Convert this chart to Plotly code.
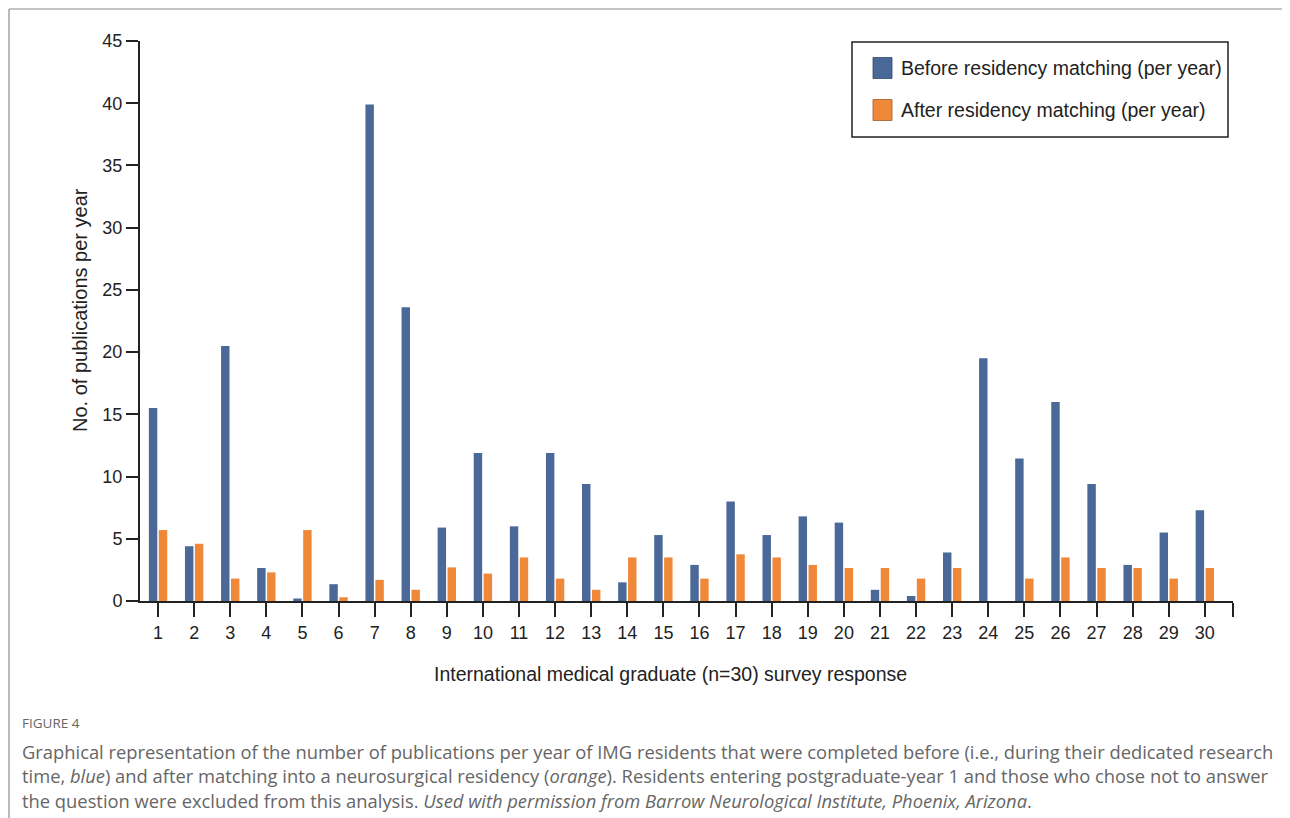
import plotly.graph_objects as go

# ---- data ----
responses = list(range(1, 31))
before_vals = [15.5, 4.4, 20.5, 2.65, 0.2, 1.35, 39.9, 23.6, 5.9, 11.9,
               6.0, 11.9, 9.4, 1.5, 5.3, 2.9, 8.0, 5.3, 6.8, 6.3,
               0.9, 0.4, 3.9, 19.5, 11.45, 16.0, 9.4, 2.9, 5.5, 7.3]
after_vals = [5.7, 4.6, 1.8, 2.3, 5.7, 0.3, 1.7, 0.9, 2.7, 2.2,
              3.5, 1.8, 0.9, 3.5, 3.5, 1.8, 3.75, 3.5, 2.9, 2.65,
              2.65, 1.8, 2.65, 0.0, 1.8, 3.5, 2.65, 2.65, 1.8, 2.65]
series_names = ["Before residency matching (per year)", "After residency matching (per year)"]
y_ticks = [0, 5, 10, 15, 20, 25, 30, 35, 40, 45]
x_title = "International medical graduate (n=30) survey response"
y_title = "No. of publications per year"
caption_head = "FIGURE 4"
caption_lines = [
    "Graphical representation of the number of publications per year of IMG residents that were completed before (i.e., during their dedicated research",
    "time, <i>blue</i>) and after matching into a neurosurgical residency (<i>orange</i>). Residents entering postgraduate-year 1 and those who chose not to answer",
    "the question were excluded from this analysis. <i>Used with permission from Barrow Neurological Institute, Phoenix, Arizona</i>.",
]

BLUE = "#4a6898"
ORANGE = "#f0883a"
FONT = "Liberation Sans, Arial, sans-serif"

OFF = 8  # page body margin
W, H = 1290 - OFF, 818 - OFF
L, R, T, B = 140 - OFF, 1233 - OFF, 41 - OFF, 601 - OFF  # plot area in figure pixels
pw, ph = R - L, B - T

def px(xp):
    # xp: page pixel in reference
    return (xp - OFF - L) / pw

def py(yp):
    return (B - (yp - OFF)) / ph

fig = go.Figure()
fig.add_trace(go.Bar(x=responses, y=before_vals, name=series_names[0],
                     marker=dict(color=BLUE, line=dict(width=0)),
                     showlegend=False))
fig.add_trace(go.Bar(x=responses, y=after_vals, name=series_names[1],
                     marker=dict(color=ORANGE, line=dict(width=0)),
                     showlegend=False))

x_end = 30.78
fig.update_layout(
    width=W, height=H,
    margin=dict(l=L, r=W - R, t=T, b=H - B, pad=0),
    paper_bgcolor="white", plot_bgcolor="white",
    barmode="group", bargap=0.45, bargroupgap=0.15,
    font=dict(family=FONT, color="#222"),
)
fig.update_xaxes(
    range=[0.5, x_end], tickmode="array",
    tickvals=responses + [x_end], ticktext=[str(r) for r in responses] + [""],
    ticks="outside", ticklen=14, tickwidth=2, tickcolor="#222",
    showline=True, linecolor="#222", linewidth=2,
    showgrid=False, zeroline=False,
    tickfont=dict(size=18, family=FONT, color="#222"),
)
fig.update_yaxes(
    range=[0, 45], tickmode="array", tickvals=y_ticks,
    ticks="outside", ticklen=12, tickwidth=2, tickcolor="#222",
    showline=True, linecolor="#222", linewidth=2,
    showgrid=False, zeroline=False,
    tickfont=dict(size=18, family=FONT, color="#222"),
)

shapes = []
annotations = []

# axis titles
annotations.append(dict(text=x_title, xref="paper", yref="paper",
                        x=px(670), y=py(674), showarrow=False,
                        xanchor="center", yanchor="middle",
                        font=dict(size=19.5, family=FONT, color="#222")))
annotations.append(dict(text=y_title, xref="paper", yref="paper",
                        x=px(80), y=py(310), showarrow=False, textangle=-90,
                        xanchor="center", yanchor="middle",
                        font=dict(size=20, family=FONT, color="#222")))

# legend (manual)
shapes.append(dict(type="rect", xref="paper", yref="paper",
                   x0=px(852), x1=px(1228), y0=py(137), y1=py(42),
                   line=dict(color="#222", width=1.5), fillcolor="white"))
for i, (nm, col, edge) in enumerate([(series_names[0], BLUE, "#33486b"),
                                      (series_names[1], ORANGE, "#a55a20")]):
    yc = 68 + i * 42
    shapes.append(dict(type="rect", xref="paper", yref="paper",
                       x0=px(873), x1=px(892), y0=py(yc + 10.5), y1=py(yc - 10.5),
                       line=dict(color=edge, width=0.8), fillcolor=col))
    annotations.append(dict(text=nm, xref="paper", yref="paper",
                            x=px(899), y=py(yc), showarrow=False,
                            xanchor="left", yanchor="middle",
                            font=dict(size=19.5, family=FONT, color="#222")))

# frame lines
shapes.append(dict(type="line", xref="paper", yref="paper",
                   x0=px(9), x1=px(1290), y0=py(9), y1=py(9),
                   line=dict(color="#8a8a8a", width=1.2)))
shapes.append(dict(type="line", xref="paper", yref="paper",
                   x0=px(9), x1=px(9), y0=py(9), y1=py(818),
                   line=dict(color="#8a8a8a", width=1.2)))

# caption
CAPFONT = "Open Sans, Noto Sans, sans-serif"
annotations.append(dict(text=caption_head, xref="paper", yref="paper",
                        x=px(20), y=py(723), showarrow=False,
                        xanchor="left", yanchor="middle",
                        font=dict(size=13.5, family=CAPFONT, color="#666")))
for i, line in enumerate(caption_lines):
    annotations.append(dict(text=line, xref="paper", yref="paper",
                            x=px(20), y=py(751 + i * 24.5), showarrow=False,
                            xanchor="left", yanchor="middle",
                            font=dict(size=18.35, family=CAPFONT, color="#666")))

fig.update_layout(shapes=shapes, annotations=annotations)
fig.write_html("out.html")
